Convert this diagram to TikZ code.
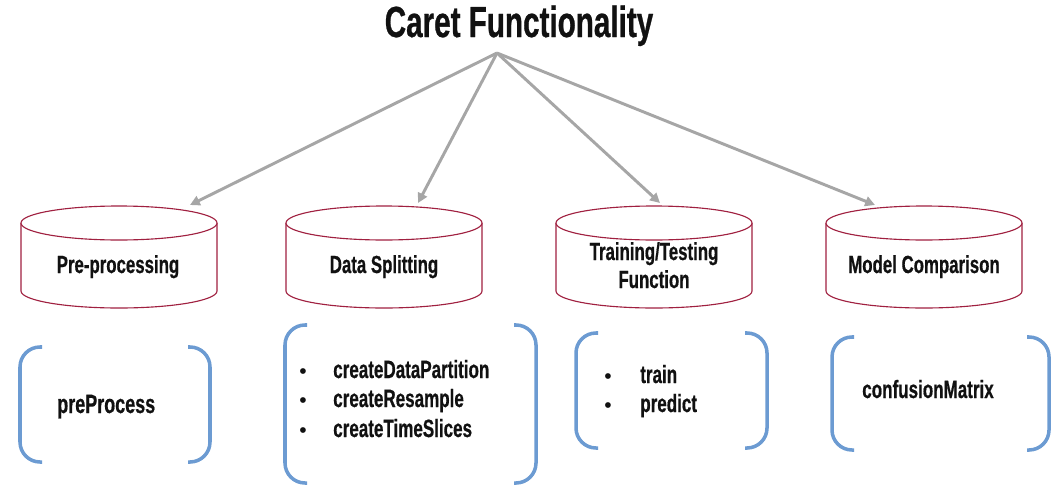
\documentclass[tikz,border=0pt]{standalone}
\usepackage{fontspec}
\newfontfamily\agency{Liberation Sans}[FakeStretch=0.68, FakeBold=0.6]
\newfontfamily\bulletfont{Liberation Sans}
\usetikzlibrary{arrows.meta}
\definecolor{cylred}{HTML}{A02040}
\definecolor{brblue}{HTML}{6C9BD2}
\definecolor{argray}{HTML}{A6A6A6}
\definecolor{txt}{HTML}{111111}
\tikzset{
  cyl/.style={draw=cylred, line width=0.8pt, fill=white},
  conn/.style={draw=argray, line width=2.1pt, -{Triangle[length=7pt,width=7pt]}},
  brk/.style={draw=brblue, line width=2.5pt, rounded corners=20*0.025cm},
  lbl/.style={inner sep=0pt, text=txt, font=\agency\bfseries\fontsize{17.6}{20}\selectfont, align=center},
  item/.style={inner sep=0pt, text=txt, anchor=base west, font=\agency\bfseries\fontsize{17.8}{20}\selectfont},
  bul/.style={inner sep=0pt, text=txt, anchor=base west, font=\bulletfont\fontsize{15}{16}\selectfont},
}
\begin{document}
\begin{tikzpicture}[x=0.025cm, y=-0.025cm]
\useasboundingbox (0,0) rectangle (1056,493);

% title
\node[inner sep=0pt, anchor=base, text=txt, font=\agency\bfseries\fontsize{31}{34}\selectfont] (title) at (519,37) {Caret Functionality};
\coordinate (apex) at (497,53);

% cylinders
\foreach \cx in {119,384,654,924}{
  \draw[cyl] (\cx-98,223) -- (\cx-98,291) arc[start angle=180,end angle=0,x radius=98,y radius=17] -- (\cx+98,223);
  \draw[cyl] (\cx,223) ellipse [x radius=98, y radius=17];
}
\coordinate (t1) at (190,205);
\coordinate (t2) at (418,203);
\coordinate (t3) at (660,203);
\coordinate (t4) at (875,205);

\node[lbl, anchor=base] (c1) at (118,273) {Pre-processing};
\node[lbl, anchor=base] (c2) at (384,273) {Data Splitting};
\node[lbl, anchor=base] (c3a) at (654,260) {Training/Testing};
\node[lbl, anchor=base] (c3b) at (654,288) {Function};
\node[lbl, anchor=base] (c4) at (924,273) {Model Comparison};

% connectors
\draw[conn] (apex) -- (t1);
\draw[conn] (apex) -- (t2);
\draw[conn] (apex) -- (t3);
\draw[conn] (apex) -- (t4);

% bracket frames
\coordinate (b1nw) at (20,347);  \coordinate (b1se) at (210,462);
\coordinate (b2nw) at (285,325); \coordinate (b2se) at (536,483);
\coordinate (b3nw) at (576,333); \coordinate (b3se) at (767,448);
\coordinate (b4nw) at (832,337); \coordinate (b4se) at (1049,450);
\foreach \b in {b1,b2,b3,b4}{
  \draw[brk] ([xshift=22*0.025cm]\b nw) -- (\b nw) -- (\b nw |- \b se) -- ([xshift=22*0.025cm]\b nw |- \b se);
  \draw[brk] ([xshift=-22*0.025cm]\b nw -| \b se) -- (\b nw -| \b se) -- (\b se) -- ([xshift=-22*0.025cm]\b se);
}

% bracket texts
\node[item, font=\agency\bfseries\fontsize{18.8}{20}\selectfont] (p1) at (57,413) {preProcess};

\node[bul] (d1b) at (299,378) {•};
\node[item] (d1) at (333,378) {createDataPartition};
\node[bul] (d2b) at (299,407) {•};
\node[item] (d2) at (333,407) {createResample};
\node[bul] (d3b) at (299,437) {•};
\node[item] (d3) at (333,437) {createTimeSlices};

\node[bul] (e1b) at (604,383) {•};
\node[item] (e1) at (640,383) {train};
\node[bul] (e2b) at (604,412) {•};
\node[item] (e2) at (640,412) {predict};

\node[item] (f1) at (862,398) {confusionMatrix};
\end{tikzpicture}
\end{document}
